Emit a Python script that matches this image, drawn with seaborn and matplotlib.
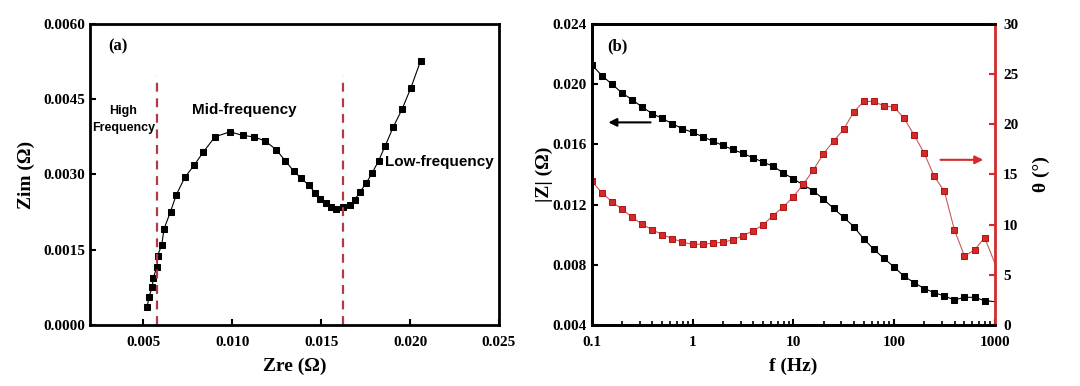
import numpy as np
import pandas as pd
import seaborn as sns
import matplotlib.pyplot as plt
from matplotlib.ticker import LogLocator, NullFormatter, FixedLocator

# --- data ---

# (a) Nyquist plot
zre = [0.00522, 0.00532, 0.00550, 0.00556, 0.00577, 0.00580, 0.00604, 0.00616,
       0.00653, 0.00685, 0.00733, 0.00785, 0.00838, 0.00903, 0.00987, 0.01058,
       0.01120, 0.01185, 0.01248, 0.01299, 0.01345, 0.01386, 0.01429, 0.01468,
       0.01496, 0.01526, 0.01556, 0.01586, 0.01623, 0.01664, 0.01690, 0.01718,
       0.01754, 0.01787, 0.01823, 0.01860, 0.01905, 0.01955, 0.02004, 0.02060]
zim = [0.000366, 0.000566, 0.00075, 0.00094, 0.00116, 0.00138, 0.00160, 0.00191,
       0.00226, 0.00259, 0.00294, 0.00318, 0.00345, 0.00375, 0.00385, 0.00378,
       0.00375, 0.00367, 0.00349, 0.00327, 0.00307, 0.00293, 0.00279, 0.00263,
       0.00251, 0.00243, 0.00235, 0.00232, 0.00235, 0.00240, 0.00250, 0.00265,
       0.00283, 0.00303, 0.00327, 0.00357, 0.00394, 0.00430, 0.00472, 0.00527]
region_bounds = [0.00578, 0.01624]

# (b) Bode plot, 10 points per decade from 0.1 Hz
freq = [0.1, 0.1259, 0.1585, 0.1995, 0.2512, 0.3162, 0.3981, 0.5012, 0.631, 0.7943,
        1.0, 1.259, 1.585, 1.995, 2.512, 3.162, 3.981, 5.012, 6.31, 7.943,
        10.0, 12.59, 15.85, 19.95, 25.12, 31.62, 39.81, 50.12, 63.1, 79.43,
        100.0, 125.9, 158.5, 199.5, 251.2, 316.2, 398.1, 501.2, 631.0, 794.3, 1000.0]
zmod = [0.02129, 0.02056, 0.02000, 0.01941, 0.01897, 0.01848, 0.01804, 0.01772,
        0.01737, 0.01704, 0.01680, 0.01651, 0.01622, 0.01593, 0.01566, 0.01540,
        0.01511, 0.01482, 0.01455, 0.01411, 0.01371, 0.01331, 0.01291, 0.01236,
        0.01174, 0.01116, 0.01054, 0.00972, 0.00903, 0.00843, 0.00786, 0.00724,
        0.00682, 0.00642, 0.00615, 0.00593, 0.00566, 0.00584, 0.00584, 0.00562, 0.00555]
theta = [14.30, 13.20, 12.27, 11.54, 10.74, 10.04, 9.48, 9.01, 8.61, 8.25,
         8.05, 8.05, 8.15, 8.25, 8.48, 8.91, 9.38, 9.98, 10.91, 11.77,
         12.77, 14.03, 15.46, 17.06, 18.32, 19.49, 21.22, 22.28, 22.28, 21.82,
         21.72, 20.62, 18.92, 17.13, 14.80, 13.34, 9.48, 6.88, 7.48, 8.71, 6.2]

nyq = pd.DataFrame({"zre": zre, "zim": zim})
bode = pd.DataFrame({"f": freq, "zmod": zmod, "theta": theta})

sns.set_style("ticks")
plt.rcParams["font.family"] = ["Liberation Serif", "DejaVu Serif"]
plt.rcParams["font.weight"] = "bold"
plt.rcParams["axes.labelweight"] = "bold"
plt.rcParams["axes.linewidth"] = 2.0
plt.rcParams["axes.edgecolor"] = "black"
plt.rcParams["axes.labelcolor"] = "black"
plt.rcParams["text.color"] = "black"
plt.rcParams["xtick.color"] = "black"
plt.rcParams["ytick.color"] = "black"
plt.rcParams["xtick.direction"] = "in"
plt.rcParams["ytick.direction"] = "in"

RED = "#d42a2a"
SANS = ["Liberation Sans", "DejaVu Sans"]

fig = plt.figure(figsize=(10.8, 3.86), dpi=100)
ax1 = fig.add_axes([0.0833, 0.158, 0.3787, 0.780])
ax2 = fig.add_axes([0.548, 0.158, 0.373, 0.780])

# --- (a) ---
sns.lineplot(data=nyq, x="zre", y="zim", sort=False, estimator=None, ax=ax1,
             color="black", lw=0.8, marker="s", markersize=4.2,
             markeredgecolor="black", markerfacecolor="black")
for xb in region_bounds:
    ax1.plot([xb, xb], [0, 0.00496], ls=(0, (4, 3)), color="#b23a48", lw=1.6)
ax1.set_xlim(0.002, 0.025)
ax1.set_ylim(0, 0.006)
ax1.xaxis.set_major_locator(FixedLocator([0.005, 0.010, 0.015, 0.020, 0.025]))
ax1.yaxis.set_major_locator(FixedLocator([0, 0.0015, 0.003, 0.0045, 0.006]))
ax1.set_xticklabels(["0.005", "0.010", "0.015", "0.020", "0.025"])
ax1.set_yticklabels(["0.0000", "0.0015", "0.0030", "0.0045", "0.0060"])
ax1.tick_params(labelsize=11, length=4, width=1.5, top=False, right=False)
ax1.tick_params(axis="x", pad=8)
ax1.set_xlabel("Zre (Ω)", fontsize=14, labelpad=6)
ax1.set_ylabel("Zim (Ω)", fontsize=14, labelpad=6)
ax1.text(0.00355, 0.00555, "(a)", fontsize=12, ha="center", va="center", weight="bold")
ax1.text(0.00388, 0.0041, "High\nFrequency", fontsize=9, ha="center", va="center",
         family=SANS, weight="bold", linespacing=1.6)
ax1.text(0.01069, 0.00428, "Mid-frequency", fontsize=11, ha="center", va="center",
         family=SANS, weight="bold")
ax1.text(0.02166, 0.00325, "Low-frequency", fontsize=11, ha="center", va="center",
         family=SANS, weight="bold")

# --- (b) ---
sns.lineplot(data=bode, x="f", y="zmod", estimator=None, ax=ax2, color="black",
             lw=0.8, marker="s", markersize=4.8, markeredgecolor="black",
             markerfacecolor="black", markevery=list(range(len(freq) - 1)))
ax2.set_xscale("log")
ax2.set_xlim(0.1, 1000)
ax2.set_ylim(0.004, 0.024)
ax2.yaxis.set_major_locator(FixedLocator([0.004, 0.008, 0.012, 0.016, 0.020, 0.024]))
ax2.set_yticklabels(["0.004", "0.008", "0.012", "0.016", "0.020", "0.024"])
ax2.xaxis.set_major_locator(FixedLocator([0.1, 1, 10, 100, 1000]))
ax2.set_xticklabels(["0.1", "1", "10", "100", "1000"])
ax2.xaxis.set_minor_locator(LogLocator(base=10, subs=np.arange(2, 10)))
ax2.xaxis.set_minor_formatter(NullFormatter())
ax2.tick_params(which="major", labelsize=11, length=4, width=1.5, top=False, right=False)
ax2.tick_params(axis="x", which="major", pad=8)
ax2.tick_params(which="minor", length=3, width=1.2, top=False)
ax2.set_xlabel("f (Hz)", fontsize=14, labelpad=6)
ax2.set_ylabel("|Z| (Ω)", fontsize=14, labelpad=0)
ax2.text(0.181, 0.02251, "(b)", fontsize=12, ha="center", va="center", weight="bold")
ax2.annotate("", xy=(0.137, 0.01746), xytext=(0.408, 0.01746),
             arrowprops=dict(arrowstyle="-|>", color="black", lw=1.5, mutation_scale=12))

ax3 = ax2.twinx()
sns.lineplot(data=bode, x="f", y="theta", estimator=None, ax=ax3, color="#c85a5a",
             lw=0.8, marker="s", markersize=4.8, markeredgecolor="#b01818",
             markerfacecolor=RED, markevery=list(range(len(freq) - 1)))
ax3.set_ylim(0, 30)
ax3.yaxis.set_major_locator(FixedLocator([0, 5, 10, 15, 20, 25, 30]))
ax3.tick_params(labelsize=11, length=4, width=1.5, color=RED, pad=6)
ax3.set_ylabel("θ (°)", fontsize=14, labelpad=10)
ax3.spines["right"].set_color(RED)
ax3.spines["right"].set_linewidth(2.0)
ax2.spines["right"].set_visible(False)
ax3.annotate("", xy=(820, 16.46), xytext=(272, 16.46),
             arrowprops=dict(arrowstyle="-|>", color=RED, lw=1.5, mutation_scale=12))

fig.savefig("out.png", dpi=100)
